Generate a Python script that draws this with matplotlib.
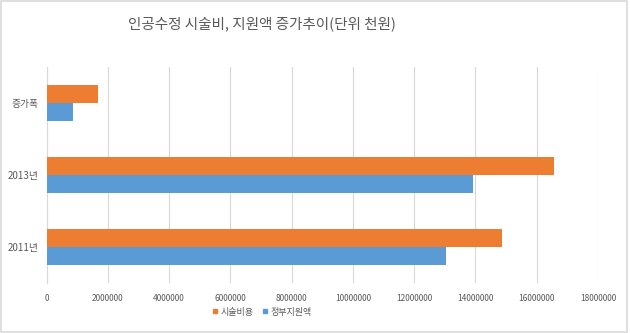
import matplotlib
matplotlib.use("Agg")
import matplotlib.pyplot as plt
import numpy as np
from matplotlib.lines import Line2D
from matplotlib.patches import Rectangle

plt.rcParams['font.family'] = ['Noto Sans CJK KR', 'DejaVu Sans']

categories = ["2011년", "2013년", "증가폭"]
series_names = ["시술비용", "정부지원액"]
treatment_cost = [14870000, 16560000, 1690000]
gov_support = [13030000, 13910000, 880000]
x_ticks = [0, 2000000, 4000000, 6000000, 8000000, 10000000,
           12000000, 14000000, 16000000, 18000000]

orange = "#ED7D31"
blue = "#5B9BD5"
text_gray = "#595959"

fig = plt.figure(figsize=(6.3, 3.33), dpi=100)
ax = fig.add_axes([46.5 / 630, 50 / 333, (598 - 46.5) / 630, (283 - 67) / 333])

y = np.arange(len(categories))
h = 0.255
ax.barh(y + h / 2, treatment_cost, height=h, color=orange, zorder=3)
ax.barh(y - h / 2, gov_support, height=h, color=blue, zorder=3)

ax.set_xlim(0, 18000000)
ax.set_ylim(-0.5, len(categories) - 0.5)
ax.set_xticks(x_ticks)
ax.set_xticklabels([str(v) for v in x_ticks], fontsize=6, color=text_gray)
ax.set_yticks(y)
ax.set_yticklabels(categories, fontsize=7, color=text_gray)
ax.tick_params(axis='x', length=0, pad=8)
ax.tick_params(axis='y', length=0, pad=6)
ax.grid(axis='x', color="#D9D9D9", linewidth=0.8, zorder=0)
for s in ["top", "right", "bottom"]:
    ax.spines[s].set_visible(False)
ax.spines["left"].set_color("#D9D9D9")
ax.spines["left"].set_linewidth(0.8)

fig.text(262 / 630, 1 - 24 / 333, "인공수정 시술비, 지원액 증가추이(단위 천원)",
         ha="center", va="center", fontsize=10.5, color=text_gray)

handles = [Line2D([], [], marker="s", linestyle="none", markersize=3.5,
                  markerfacecolor=c, markeredgecolor=c) for c in (orange, blue)]
fig.legend(handles, series_names, loc="center", bbox_to_anchor=(262 / 630, 1 - 312 / 333),
           ncol=2, frameon=False, fontsize=6.5, handlelength=0.6, handletextpad=0.3,
           columnspacing=0.9, labelcolor=text_gray)

fig.patches.append(Rectangle((0.002, 0.004), 0.994, 0.992, transform=fig.transFigure,
                             fill=False, edgecolor="#D9D9D9", linewidth=1.2))

fig.savefig("out.png", dpi=100)
